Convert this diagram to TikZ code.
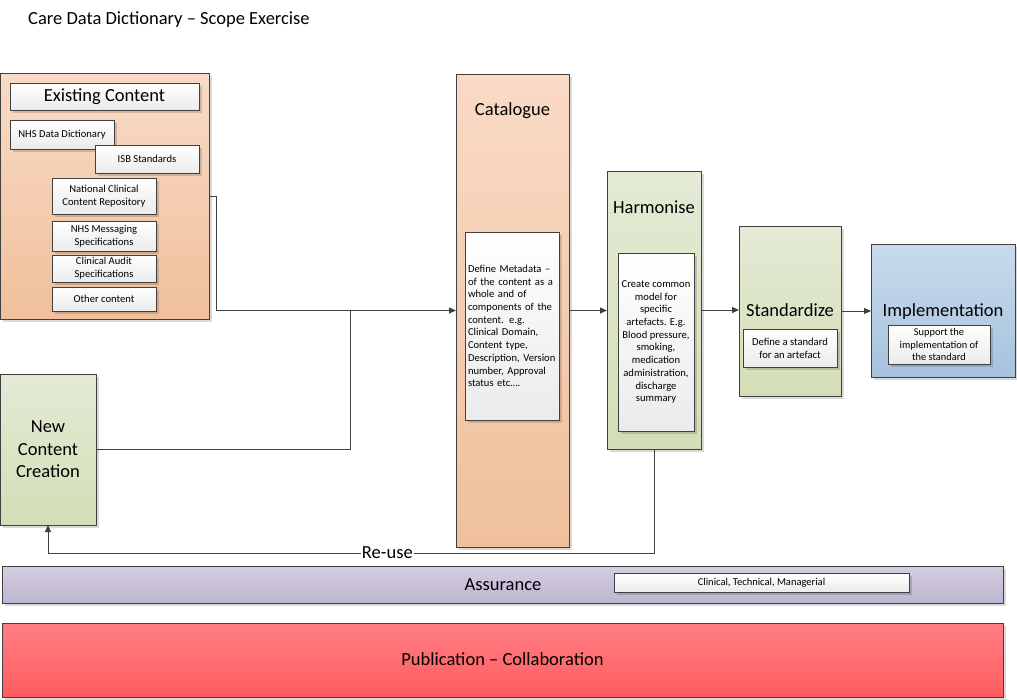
\documentclass[tikz,border=0pt]{standalone}
\usepackage{fontspec}
\setmainfont{Carlito}
\usetikzlibrary{arrows.meta,shadows}
\definecolor{edge}{HTML}{404040}
\definecolor{orT}{HTML}{F9DAC6}
\definecolor{orB}{HTML}{F0C09B}
\definecolor{grT}{HTML}{E4EAD6}
\definecolor{grB}{HTML}{D3DEB6}
\definecolor{blT}{HTML}{C8DBEC}
\definecolor{blB}{HTML}{A7C2DE}
\definecolor{puT}{HTML}{D4CDE2}
\definecolor{puB}{HTML}{BCB5D0}
\definecolor{rdT}{HTML}{FF7E82}
\definecolor{rdB}{HTML}{FF5C60}
\definecolor{whB}{HTML}{EBEBEB}
\tikzset{
  panel/.style={draw=edge, line width=0.9pt, inner sep=0pt, outer sep=0pt, anchor=north west,
    drop shadow={shadow xshift=2.5pt, shadow yshift=-2.5pt, fill=black, opacity=0.15}},
  orangep/.style={panel, top color=orT, bottom color=orB},
  greenp/.style={panel, top color=grT, bottom color=grB},
  bluep/.style={panel, top color=blT, bottom color=blB},
  purplep/.style={panel, top color=puT, bottom color=puB},
  redp/.style={panel, top color=rdT, bottom color=rdB},
  card/.style={panel, top color=white, bottom color=whB, line width=0.7pt, align=center,
    font=\fontsize{10.6}{13}\selectfont},
  bigfont/.style={font=\fontsize{18.5}{22.5}\selectfont, text height=1.06em, text depth=0em},
  big/.style={bigfont, inner sep=0pt},
  link/.style={draw=edge, line width=0.9pt},
  arr/.style={link, -{Triangle[length=7pt,width=6pt]}},
}
\begin{document}
\begin{tikzpicture}[x=1pt,y=-1pt]
\useasboundingbox (0,0) rectangle (1017,699);
% title
\node[big, anchor=west] (title) at (28,19) {Care Data Dictionary – Scope Exercise};
% existing content
\node[orangep, minimum width=209pt, minimum height=246pt] (exist) at (0,73) {};
\node[card, minimum width=189pt, minimum height=27pt, bigfont] (exhead) at (10,83) {Existing Content};
\node[card, minimum width=104pt, minimum height=29pt] (nhsdd) at (10,120) {NHS Data Dictionary};
\node[card, minimum width=104pt, minimum height=28pt] (isb) at (95,145) {ISB Standards};
\node[card, minimum width=104pt, minimum height=36pt] (nccr) at (52,178) {National Clinical\\Content Repository};
\node[card, minimum width=104pt, minimum height=30pt] (msg) at (52,221) {NHS Messaging\\Specifications};
\node[card, minimum width=104pt, minimum height=27pt] (audit) at (52,255) {Clinical Audit\\Specifications};
\node[card, minimum width=104pt, minimum height=24pt] (other) at (52,287) {Other content};
% new content
\node[greenp, minimum width=96pt, minimum height=151pt, align=center, font=\fontsize{18.5}{22.5}\selectfont] (new) at (0,374) {New\\Content\\Creation};
% catalogue
\node[orangep, minimum width=113pt, minimum height=473pt] (cat) at (456,74) {};
\node[big] (cathead) at (512.5,110) {Catalogue};
\node[card, minimum width=94pt, minimum height=188pt, align=left, text width=88pt, inner sep=3pt,
  font=\fontsize{10.6}{12.7}\selectfont] (catbox) at (465,232)
  {Define Metadata –\\of the content as a\\whole and of\\components of the\\content. e.g.\\Clinical Domain,\\Content type,\\Description, Version\\number, Approval\\status etc….};
% harmonise
\node[greenp, minimum width=94pt, minimum height=278pt] (harm) at (607,171) {};
\node[big] (harmhead) at (654,208) {Harmonise};
\node[card, minimum width=76pt, minimum height=178pt, font=\fontsize{10.6}{12.7}\selectfont] (harmbox) at (618,253)
  {Create common\\model for\\specific\\artefacts. E.g.\\Blood pressure,\\smoking,\\medication\\administration,\\discharge\\summary};
% standardize
\node[greenp, minimum width=102pt, minimum height=170pt] (std) at (739,226) {};
\node[big] (stdhead) at (790,311) {Standardize};
\node[card, minimum width=94pt, minimum height=38pt] (stdbox) at (743,329) {Define a standard\\for an artefact};
% implementation
\node[bluep, minimum width=144pt, minimum height=133pt] (impl) at (871,244) {};
\node[big] (implhead) at (943,311) {Implementation};
\node[card, minimum width=102pt, minimum height=39pt, font=\fontsize{10.4}{12.5}\selectfont] (implbox) at (888,325) {Support the\\implementation of\\the standard};
% assurance & publication
\node[purplep, minimum width=1001pt, minimum height=37pt] (assur) at (2,566) {};
\node[big] (assurtxt) at (503,585) {Assurance};
\node[card, minimum width=295pt, minimum height=19pt, font=\fontsize{10.5}{12}\selectfont] (assurbox) at (614,573) {Clinical, Technical, Managerial};
\node[redp, minimum width=1001pt, minimum height=74pt, bigfont] (pub) at (2,623) {Publication – Collaboration};
% connectors
\coordinate (join) at (350,311);
\draw[arr] (exist.east) -- ++(7,0) |- (cat.west);
\draw[link] (new.east) -| (join);
\draw[arr] (cat.east) -- (cat.east -| harm.west);
\draw[arr] (harm.east) -- (harm.east -| std.west);
\draw[arr] (std.east) -- (std.east -| impl.west);
\draw[arr] (harm.south) |- node[pos=0.72, fill=white, inner sep=1pt, bigfont] (reuse) {Re-use} (new.south |- 0,553) -- (new.south);
\end{tikzpicture}
\end{document}
